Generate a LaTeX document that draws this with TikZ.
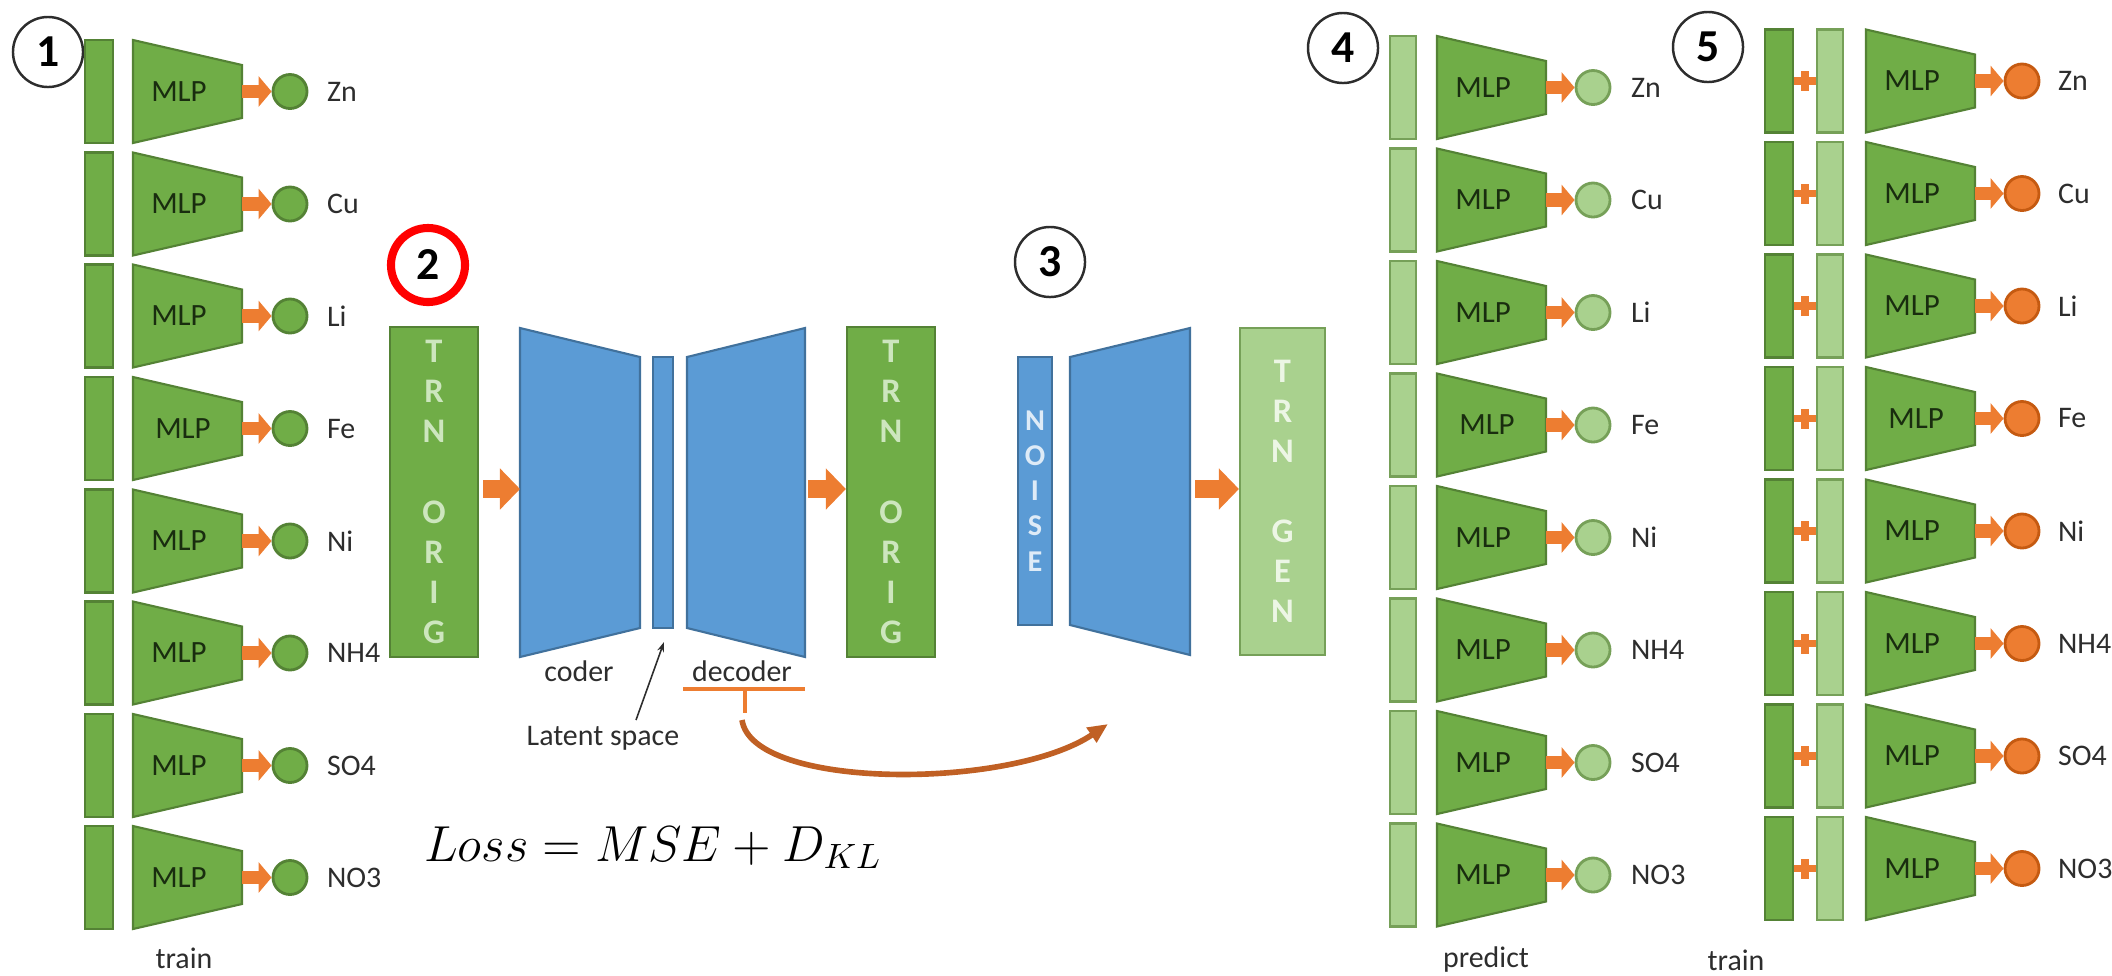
\documentclass[tikz,border=0pt]{standalone}
\usepackage{fontspec}
\setmainfont{Carlito}
\usetikzlibrary{positioning,arrows.meta}
\definecolor{grn}{RGB}{112,173,71}
\definecolor{grnD}{RGB}{84,130,53}
\definecolor{grnL}{RGB}{169,209,142}
\definecolor{grnM}{RGB}{118,160,88}
\definecolor{grnT}{RGB}{205,230,190}
\definecolor{genT}{RGB}{236,246,229}
\definecolor{blu}{RGB}{91,155,213}
\definecolor{bluD}{RGB}{65,113,156}
\definecolor{bluT}{RGB}{222,235,247}
\definecolor{org}{RGB}{237,125,49}
\definecolor{orgD}{RGB}{197,90,17}
\definecolor{brn}{RGB}{192,96,36}
\definecolor{mlpink}{RGB}{25,45,15}
\definecolor{txt}{RGB}{45,45,45}
\tikzset{
  inbar/.style={draw=grnD,fill=grn,line width=0.6pt,minimum width=0.28cm,minimum height=1.03cm,inner sep=0},
  inbarL/.style={inbar,draw=grnM,fill=grnL,minimum width=0.26cm},
  mlpbox/.style={draw=grnD,fill=grn,line width=0.6pt},
  mlptxt/.style={text=mlpink,inner sep=0,font=\fontsize{8.8}{10}\selectfont},
  outA/.style={circle,draw=grnD,fill=grn,line width=0.8pt,minimum size=0.34cm,inner sep=0},
  outB/.style={outA,draw=grnM,fill=grnL},
  outC/.style={outA,draw=orgD,fill=org},
  lbl/.style={text=txt,inner sep=0,font=\fontsize{8.5}{10}\selectfont},
  smallarr/.style={draw=org,line width=3.8pt,-{Triangle[length=0.13cm,width=0.30cm]}},
  bigarr/.style={draw=org,line width=5pt,-{Triangle[length=0.20cm,width=0.40cm]}},
  plusarm/.style={draw=org,line width=2.2pt},
  plusv/.style={fill=org,minimum width=0.08cm,minimum height=0.20cm,inner sep=0},
  numcirc/.style={circle,draw=txt,line width=0.7pt,minimum size=0.70cm,inner sep=0,text=black,font=\bfseries\fontsize{13}{14}\selectfont},
  numred/.style={numcirc,draw=red,line width=2.3pt,minimum size=0.74cm},
  trnbar/.style={draw=grnD,fill=grn,line width=0.6pt,minimum width=0.88cm,minimum height=3.30cm,inner sep=0,text=grnT,align=center,font=\bfseries\fontsize{9.8}{11.4}\selectfont},
  genbar/.style={trnbar,draw=grnM,fill=grnL,text=genT,minimum width=0.85cm,minimum height=3.27cm},
  noisebar/.style={draw=bluD,fill=blu,line width=0.6pt,minimum width=0.34cm,minimum height=2.68cm,inner sep=0,text=bluT,align=center,font=\bfseries\fontsize{8.6}{10}\selectfont},
  netbox/.style={draw=bluD,fill=blu,line width=0.6pt},
  orgline/.style={draw=org,line width=1pt},
  curvarr/.style={draw=brn,line width=1.6pt,-{Triangle[length=0.20cm,width=0.17cm]}},
  thinarr/.style={draw=txt,line width=0.45pt,-{Stealth[length=0.10cm,width=0.07cm]}},
  losstxt/.style={text=black,inner sep=0,font=\fontsize{14.6}{17}\selectfont}
}
\begin{document}
\begin{tikzpicture}[x=0.01cm,y=-0.01cm]
\useasboundingbox (0,0) rectangle (2112,975);
% step numbers
\node[numcirc] (n1) at (48,52) {1};
\node[numred]  (n2) at (428,265) {2};
\node[numcirc] (n3) at (1050,262) {3};
\node[numcirc] (n4) at (1343,48) {4};
\node[numcirc] (n5) at (1708,47) {5};
% panel 1: train
\node[inbar] (aB1) at (99,91.5) {};
\coordinate (aR1) at (242,91.5);
\filldraw[mlpbox] (aR1) ++(0,-26.5) -- ++(0,53) -- ++(-109,25) -- ++(0,-103) -- cycle;
\node[mlptxt] (aM1) at (179,91.5) {MLP};
\node[outA] (aO1) at (290,91.5) {};
\node[lbl,right=0.18cm of aO1] (aL1) {Zn};
\draw[smallarr] (aR1) -- (aO1.west);
\node[inbar] (aB2) at (99,204) {};
\coordinate (aR2) at (242,204);
\filldraw[mlpbox] (aR2) ++(0,-26.5) -- ++(0,53) -- ++(-109,25) -- ++(0,-103) -- cycle;
\node[mlptxt] (aM2) at (179,204) {MLP};
\node[outA] (aO2) at (290,204) {};
\node[lbl,right=0.18cm of aO2] (aL2) {Cu};
\draw[smallarr] (aR2) -- (aO2.west);
\node[inbar] (aB3) at (99,316) {};
\coordinate (aR3) at (242,316);
\filldraw[mlpbox] (aR3) ++(0,-26.5) -- ++(0,53) -- ++(-109,25) -- ++(0,-103) -- cycle;
\node[mlptxt] (aM3) at (179,316) {MLP};
\node[outA] (aO3) at (290,316) {};
\node[lbl,right=0.18cm of aO3] (aL3) {Li};
\draw[smallarr] (aR3) -- (aO3.west);
\node[inbar] (aB4) at (99,428.5) {};
\coordinate (aR4) at (242,428.5);
\filldraw[mlpbox] (aR4) ++(0,-26.5) -- ++(0,53) -- ++(-109,25) -- ++(0,-103) -- cycle;
\node[mlptxt] (aM4) at (183,428.5) {MLP};
\node[outA] (aO4) at (290,428.5) {};
\node[lbl,right=0.18cm of aO4] (aL4) {Fe};
\draw[smallarr] (aR4) -- (aO4.west);
\node[inbar] (aB5) at (99,541) {};
\coordinate (aR5) at (242,541);
\filldraw[mlpbox] (aR5) ++(0,-26.5) -- ++(0,53) -- ++(-109,25) -- ++(0,-103) -- cycle;
\node[mlptxt] (aM5) at (179,541) {MLP};
\node[outA] (aO5) at (290,541) {};
\node[lbl,right=0.18cm of aO5] (aL5) {Ni};
\draw[smallarr] (aR5) -- (aO5.west);
\node[inbar] (aB6) at (99,653) {};
\coordinate (aR6) at (242,653);
\filldraw[mlpbox] (aR6) ++(0,-26.5) -- ++(0,53) -- ++(-109,25) -- ++(0,-103) -- cycle;
\node[mlptxt] (aM6) at (179,653) {MLP};
\node[outA] (aO6) at (290,653) {};
\node[lbl,right=0.18cm of aO6] (aL6) {NH4};
\draw[smallarr] (aR6) -- (aO6.west);
\node[inbar] (aB7) at (99,765.5) {};
\coordinate (aR7) at (242,765.5);
\filldraw[mlpbox] (aR7) ++(0,-26.5) -- ++(0,53) -- ++(-109,25) -- ++(0,-103) -- cycle;
\node[mlptxt] (aM7) at (179,765.5) {MLP};
\node[outA] (aO7) at (290,765.5) {};
\node[lbl,right=0.18cm of aO7] (aL7) {SO4};
\draw[smallarr] (aR7) -- (aO7.west);
\node[inbar] (aB8) at (99,877.5) {};
\coordinate (aR8) at (242,877.5);
\filldraw[mlpbox] (aR8) ++(0,-26.5) -- ++(0,53) -- ++(-109,25) -- ++(0,-103) -- cycle;
\node[mlptxt] (aM8) at (179,877.5) {MLP};
\node[outA] (aO8) at (290,877.5) {};
\node[lbl,right=0.18cm of aO8] (aL8) {NO3};
\draw[smallarr] (aR8) -- (aO8.west);
\node[lbl] (aT) at (184,958) {train};
% panel 2: autoencoder
\node[trnbar] (trnA) at (434,492) {T\\R\\N\\[11.4pt]O\\R\\I\\G};
\filldraw[netbox] (520,328) -- (640,357) -- (640,628) -- (520,657) -- cycle;
\filldraw[netbox] (653,357) rectangle (673,628);
\filldraw[netbox] (687,357) -- (805,328) -- (805,657) -- (687,628) -- cycle;
\node[trnbar] (trnB) at (891,492) {T\\R\\N\\[11.4pt]O\\R\\I\\G};
\coordinate (encIn) at (520,489);
\coordinate (decOut) at (808,489);
\draw[bigarr,shorten <=0.04cm] (trnA.east |- encIn) -- (encIn);
\draw[bigarr] (decOut) -- (trnB.west |- decOut);
\node[lbl] (coder) at (579,671) {coder};
\node[lbl] (decoder) at (742,671) {decoder};
\node[lbl] (latent) at (603,738) {Latent space};
\coordinate (latTail) at (636,720);
\coordinate (latTip) at (664,642);
\draw[thinarr] (latTail) -- (latTip);
\coordinate (dUl) at (683,689);
\coordinate (dUr) at (805,689);
\coordinate (dUm) at (745,689);
\coordinate (dUt) at (745,713);
\draw[orgline] (dUl) -- (dUr);
\draw[orgline] (dUm) -- (dUt);
\coordinate (cvS) at (742,720);
\coordinate (cvE) at (1108,724);
\draw[curvarr] (cvS) .. controls (752,790) and (1010,790) .. (cvE);
\node[losstxt,anchor=base] (loss) at (653,861) {$Loss = MSE + D_{KL}$};
% panel 3: generator
\node[noisebar] (noise) at (1035,491) {N\\O\\I\\S\\E};
\filldraw[netbox] (1070,357) -- (1190,328) -- (1190,655) -- (1070,625) -- cycle;
\node[genbar] (gen) at (1282.5,491.5) {T\\R\\N\\[11.4pt]G\\E\\N};
\coordinate (genOut) at (1195,489);
\draw[bigarr] (genOut) -- (gen.west |- genOut);
% panel 4: predict
\node[inbarL] (dB1) at (1403,87.5) {};
\coordinate (dR1) at (1546,87.5);
\filldraw[mlpbox] (dR1) ++(0,-26.5) -- ++(0,53) -- ++(-109,25) -- ++(0,-103) -- cycle;
\node[mlptxt] (dM1) at (1483,87.5) {MLP};
\node[outB] (dO1) at (1593,87.5) {};
\node[lbl,right=0.19cm of dO1] (dL1) {Zn};
\draw[smallarr] (dR1) -- (dO1.west);
\node[inbarL] (dB2) at (1403,200) {};
\coordinate (dR2) at (1546,200);
\filldraw[mlpbox] (dR2) ++(0,-26.5) -- ++(0,53) -- ++(-109,25) -- ++(0,-103) -- cycle;
\node[mlptxt] (dM2) at (1483,200) {MLP};
\node[outB] (dO2) at (1593,200) {};
\node[lbl,right=0.19cm of dO2] (dL2) {Cu};
\draw[smallarr] (dR2) -- (dO2.west);
\node[inbarL] (dB3) at (1403,312.5) {};
\coordinate (dR3) at (1546,312.5);
\filldraw[mlpbox] (dR3) ++(0,-26.5) -- ++(0,53) -- ++(-109,25) -- ++(0,-103) -- cycle;
\node[mlptxt] (dM3) at (1483,312.5) {MLP};
\node[outB] (dO3) at (1593,312.5) {};
\node[lbl,right=0.19cm of dO3] (dL3) {Li};
\draw[smallarr] (dR3) -- (dO3.west);
\node[inbarL] (dB4) at (1403,425) {};
\coordinate (dR4) at (1546,425);
\filldraw[mlpbox] (dR4) ++(0,-26.5) -- ++(0,53) -- ++(-109,25) -- ++(0,-103) -- cycle;
\node[mlptxt] (dM4) at (1487,425) {MLP};
\node[outB] (dO4) at (1593,425) {};
\node[lbl,right=0.19cm of dO4] (dL4) {Fe};
\draw[smallarr] (dR4) -- (dO4.west);
\node[inbarL] (dB5) at (1403,537.5) {};
\coordinate (dR5) at (1546,537.5);
\filldraw[mlpbox] (dR5) ++(0,-26.5) -- ++(0,53) -- ++(-109,25) -- ++(0,-103) -- cycle;
\node[mlptxt] (dM5) at (1483,537.5) {MLP};
\node[outB] (dO5) at (1593,537.5) {};
\node[lbl,right=0.19cm of dO5] (dL5) {Ni};
\draw[smallarr] (dR5) -- (dO5.west);
\node[inbarL] (dB6) at (1403,650) {};
\coordinate (dR6) at (1546,650);
\filldraw[mlpbox] (dR6) ++(0,-26.5) -- ++(0,53) -- ++(-109,25) -- ++(0,-103) -- cycle;
\node[mlptxt] (dM6) at (1483,650) {MLP};
\node[outB] (dO6) at (1593,650) {};
\node[lbl,right=0.19cm of dO6] (dL6) {NH4};
\draw[smallarr] (dR6) -- (dO6.west);
\node[inbarL] (dB7) at (1403,762.5) {};
\coordinate (dR7) at (1546,762.5);
\filldraw[mlpbox] (dR7) ++(0,-26.5) -- ++(0,53) -- ++(-109,25) -- ++(0,-103) -- cycle;
\node[mlptxt] (dM7) at (1483,762.5) {MLP};
\node[outB] (dO7) at (1593,762.5) {};
\node[lbl,right=0.19cm of dO7] (dL7) {SO4};
\draw[smallarr] (dR7) -- (dO7.west);
\node[inbarL] (dB8) at (1403,875) {};
\coordinate (dR8) at (1546,875);
\filldraw[mlpbox] (dR8) ++(0,-26.5) -- ++(0,53) -- ++(-109,25) -- ++(0,-103) -- cycle;
\node[mlptxt] (dM8) at (1483,875) {MLP};
\node[outB] (dO8) at (1593,875) {};
\node[lbl,right=0.19cm of dO8] (dL8) {NO3};
\draw[smallarr] (dR8) -- (dO8.west);
\node[lbl] (dT) at (1486,960) {predict};
% panel 5: train with generated data
\node[inbar] (eB1) at (1779,81) {};
\node[inbarL] (eC1) at (1830,81) {};
\node[plusv] (eP1) at (1805,81) {};
\draw[plusarm] (eB1.east) -- (eC1.west);
\coordinate (eR1) at (1975,81);
\filldraw[mlpbox] (eR1) ++(0,-26.5) -- ++(0,53) -- ++(-109,25) -- ++(0,-103) -- cycle;
\node[mlptxt] (eM1) at (1912,81) {MLP};
\node[outC] (eO1) at (2022,81) {};
\node[lbl,right=0.17cm of eO1] (eL1) {Zn};
\draw[smallarr] (eR1) -- (eO1.west);
\node[inbar] (eB2) at (1779,193.5) {};
\node[inbarL] (eC2) at (1830,193.5) {};
\node[plusv] (eP2) at (1805,193.5) {};
\draw[plusarm] (eB2.east) -- (eC2.west);
\coordinate (eR2) at (1975,193.5);
\filldraw[mlpbox] (eR2) ++(0,-26.5) -- ++(0,53) -- ++(-109,25) -- ++(0,-103) -- cycle;
\node[mlptxt] (eM2) at (1912,193.5) {MLP};
\node[outC] (eO2) at (2022,193.5) {};
\node[lbl,right=0.17cm of eO2] (eL2) {Cu};
\draw[smallarr] (eR2) -- (eO2.west);
\node[inbar] (eB3) at (1779,306) {};
\node[inbarL] (eC3) at (1830,306) {};
\node[plusv] (eP3) at (1805,306) {};
\draw[plusarm] (eB3.east) -- (eC3.west);
\coordinate (eR3) at (1975,306);
\filldraw[mlpbox] (eR3) ++(0,-26.5) -- ++(0,53) -- ++(-109,25) -- ++(0,-103) -- cycle;
\node[mlptxt] (eM3) at (1912,306) {MLP};
\node[outC] (eO3) at (2022,306) {};
\node[lbl,right=0.17cm of eO3] (eL3) {Li};
\draw[smallarr] (eR3) -- (eO3.west);
\node[inbar] (eB4) at (1779,418.5) {};
\node[inbarL] (eC4) at (1830,418.5) {};
\node[plusv] (eP4) at (1805,418.5) {};
\draw[plusarm] (eB4.east) -- (eC4.west);
\coordinate (eR4) at (1975,418.5);
\filldraw[mlpbox] (eR4) ++(0,-26.5) -- ++(0,53) -- ++(-109,25) -- ++(0,-103) -- cycle;
\node[mlptxt] (eM4) at (1916,418.5) {MLP};
\node[outC] (eO4) at (2022,418.5) {};
\node[lbl,right=0.17cm of eO4] (eL4) {Fe};
\draw[smallarr] (eR4) -- (eO4.west);
\node[inbar] (eB5) at (1779,531) {};
\node[inbarL] (eC5) at (1830,531) {};
\node[plusv] (eP5) at (1805,531) {};
\draw[plusarm] (eB5.east) -- (eC5.west);
\coordinate (eR5) at (1975,531);
\filldraw[mlpbox] (eR5) ++(0,-26.5) -- ++(0,53) -- ++(-109,25) -- ++(0,-103) -- cycle;
\node[mlptxt] (eM5) at (1912,531) {MLP};
\node[outC] (eO5) at (2022,531) {};
\node[lbl,right=0.17cm of eO5] (eL5) {Ni};
\draw[smallarr] (eR5) -- (eO5.west);
\node[inbar] (eB6) at (1779,643.5) {};
\node[inbarL] (eC6) at (1830,643.5) {};
\node[plusv] (eP6) at (1805,643.5) {};
\draw[plusarm] (eB6.east) -- (eC6.west);
\coordinate (eR6) at (1975,643.5);
\filldraw[mlpbox] (eR6) ++(0,-26.5) -- ++(0,53) -- ++(-109,25) -- ++(0,-103) -- cycle;
\node[mlptxt] (eM6) at (1912,643.5) {MLP};
\node[outC] (eO6) at (2022,643.5) {};
\node[lbl,right=0.17cm of eO6] (eL6) {NH4};
\draw[smallarr] (eR6) -- (eO6.west);
\node[inbar] (eB7) at (1779,756) {};
\node[inbarL] (eC7) at (1830,756) {};
\node[plusv] (eP7) at (1805,756) {};
\draw[plusarm] (eB7.east) -- (eC7.west);
\coordinate (eR7) at (1975,756);
\filldraw[mlpbox] (eR7) ++(0,-26.5) -- ++(0,53) -- ++(-109,25) -- ++(0,-103) -- cycle;
\node[mlptxt] (eM7) at (1912,756) {MLP};
\node[outC] (eO7) at (2022,756) {};
\node[lbl,right=0.17cm of eO7] (eL7) {SO4};
\draw[smallarr] (eR7) -- (eO7.west);
\node[inbar] (eB8) at (1779,868.5) {};
\node[inbarL] (eC8) at (1830,868.5) {};
\node[plusv] (eP8) at (1805,868.5) {};
\draw[plusarm] (eB8.east) -- (eC8.west);
\coordinate (eR8) at (1975,868.5);
\filldraw[mlpbox] (eR8) ++(0,-26.5) -- ++(0,53) -- ++(-109,25) -- ++(0,-103) -- cycle;
\node[mlptxt] (eM8) at (1912,868.5) {MLP};
\node[outC] (eO8) at (2022,868.5) {};
\node[lbl,right=0.17cm of eO8] (eL8) {NO3};
\draw[smallarr] (eR8) -- (eO8.west);
\node[lbl] (eT) at (1736,960) {train};
\end{tikzpicture}
\end{document}
